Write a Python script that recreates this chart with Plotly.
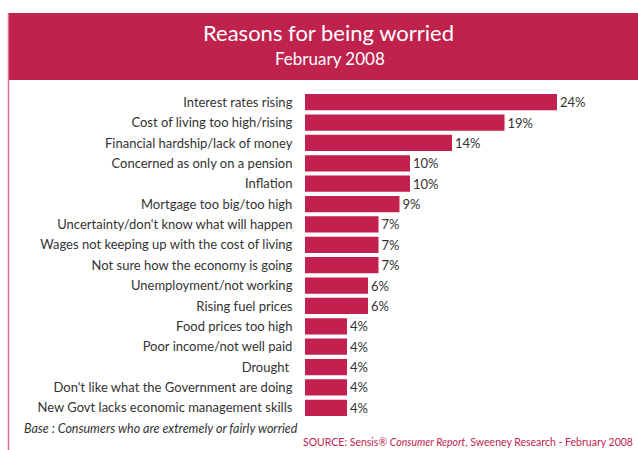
import plotly.graph_objects as go

# Survey results, top to bottom
reasons = [
    "Interest rates rising",
    "Cost of living too high/rising",
    "Financial hardship/lack of money",
    "Concerned as only on a pension",
    "Inflation",
    "Mortgage too big/too high",
    "Uncertainty/don't know what will happen",
    "Wages not keeping up with the cost of living",
    "Not sure how the economy is going",
    "Unemployment/not working",
    "Rising fuel prices",
    "Food prices too high",
    "Poor income/not well paid",
    "Drought ",
    "Don't like what the Government are doing",
    "New Govt lacks economic management skills",
]
percent = [24, 19, 14, 10, 10, 9, 7, 7, 7, 6, 6, 4, 4, 4, 4, 4]

BAR = "#C2214F"
FONT = "Lato, 'Open Sans', sans-serif"
W, H = 638, 450
L, T, B = 305, 92, 32
R = 18

fig = go.Figure(go.Bar(
    x=percent,
    y=reasons,
    orientation="h",
    marker=dict(color=BAR, line=dict(width=0)),
    text=[f"{v}%" for v in percent],
    textposition="outside",
    textfont=dict(family=FONT, size=13, color="#333333"),
    cliponaxis=False,
    width=0.8,
))

# pixel -> paper helpers
pw, ph = W - L - R, H - T - B
def px(x):
    return (x - L) / pw
def py(y):
    return (H - B - y) / ph

shapes = [
    # header band
    dict(type="rect", xref="paper", yref="paper",
         x0=px(8), x1=px(W + 5), y0=py(80), y1=py(13),
         fillcolor="#C0224E", line=dict(width=0), layer="below"),
    # left border of the panel
    dict(type="line", xref="paper", yref="paper",
         x0=px(8.5), x1=px(8.5), y0=py(13), y1=py(H + 5),
         line=dict(color="#D9708F", width=1.5)),
]

annotations = [
    dict(text="Reasons for being worried", xref="paper", yref="paper",
         x=px(328), y=py(33), showarrow=False, xanchor="center", yanchor="middle",
         font=dict(family=FONT, size=22, color="white")),
    dict(text="February 2008", xref="paper", yref="paper",
         x=px(330), y=py(59), showarrow=False, xanchor="center", yanchor="middle",
         font=dict(family=FONT, size=17, color="white")),
    dict(text="<i>Base : Consumers who are extremely or fairly worried</i>",
         xref="paper", yref="paper", x=px(22), y=py(428), showarrow=False,
         xanchor="left", yanchor="middle",
         font=dict(family=FONT, size=12.5, color="#333333")),
    dict(text="SOURCE: Sensis® <i>Consumer Report</i>, Sweeney Research - February 2008",
         xref="paper", yref="paper", x=px(W - 3), y=py(442), showarrow=False,
         xanchor="right", yanchor="middle",
         font=dict(family=FONT, size=10.5, color="#C0224E")),
]

fig.update_layout(
    width=W, height=H,
    margin=dict(l=L, r=R, t=T, b=B, pad=0),
    paper_bgcolor="white", plot_bgcolor="white",
    showlegend=False,
    xaxis=dict(range=[0, 30], visible=False, fixedrange=True),
    yaxis=dict(autorange="reversed", showgrid=False, zeroline=False, showline=False,
               ticks="outside", ticklen=9, tickcolor="rgba(0,0,0,0)",
               tickfont=dict(family=FONT, size=13, color="#333333")),
    shapes=shapes,
    annotations=annotations,
)

fig.write_html("out.html")
